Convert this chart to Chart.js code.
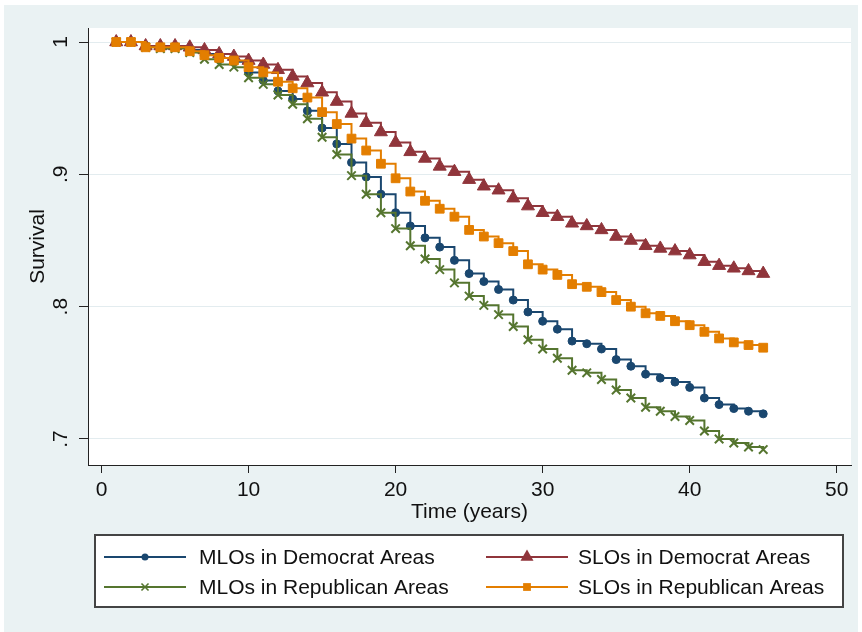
<!DOCTYPE html>
<html>
<head>
<meta charset="utf-8">
<script src="https://cdn.jsdelivr.net/npm/chart.js@4/dist/chart.umd.min.js"></script>
<style>
  html, body { margin: 0; padding: 0; background: #ffffff; }
  #wrap { width: 862px; height: 632px; }
</style>
</head>
<body>
<div id="wrap"><canvas id="c" width="862" height="632"></canvas></div>
<script>
// ---- data ----
const years = [1,2,3,4,5,6,7,8,9,10,11,12,13,14,15,16,17,18,19,20,21,22,23,24,25,26,27,28,29,30,31,32,33,34,35,36,37,38,39,40,41,42,43,44,45];

const mlosDemocrat = [1.000,1.000,0.997,0.996,0.996,0.994,0.991,0.988,0.985,0.977,0.971,0.963,0.957,0.948,0.935,0.923,0.909,0.898,0.885,0.871,0.861,0.852,0.845,0.835,0.825,0.819,0.813,0.805,0.796,0.789,0.783,0.774,0.772,0.768,0.760,0.755,0.749,0.746,0.743,0.739,0.731,0.726,0.723,0.721,0.719];
const slosDemocrat = [1.000,1.000,0.997,0.997,0.997,0.996,0.994,0.991,0.989,0.986,0.983,0.979,0.974,0.969,0.962,0.955,0.946,0.939,0.932,0.924,0.917,0.912,0.906,0.902,0.896,0.891,0.888,0.882,0.876,0.871,0.868,0.863,0.861,0.858,0.853,0.850,0.846,0.844,0.842,0.839,0.834,0.831,0.829,0.827,0.825];
const mlosRepublican = [1.000,1.000,0.996,0.995,0.995,0.992,0.987,0.983,0.981,0.973,0.968,0.960,0.953,0.942,0.928,0.915,0.899,0.885,0.871,0.859,0.846,0.836,0.828,0.818,0.808,0.801,0.794,0.785,0.775,0.768,0.761,0.752,0.750,0.745,0.737,0.731,0.724,0.721,0.717,0.714,0.706,0.700,0.697,0.694,0.692];
const slosRepublican = [1.000,1.000,0.996,0.996,0.996,0.993,0.990,0.988,0.986,0.981,0.977,0.970,0.965,0.958,0.947,0.938,0.927,0.918,0.908,0.897,0.887,0.880,0.874,0.868,0.858,0.853,0.848,0.842,0.832,0.828,0.824,0.817,0.815,0.811,0.805,0.800,0.795,0.793,0.789,0.786,0.781,0.776,0.773,0.771,0.769];

const seriesLabels = ["MLOs in Democrat Areas", "SLOs in Democrat Areas", "MLOs in Republican Areas", "SLOs in Republican Areas"];
const xTickValues = [0, 10, 20, 30, 40, 50];
const yTickValues = [0.7, 0.8, 0.9, 1];
const xTitle = "Time (years)";
const yTitle = "Survival";

// ---- styles ----
const FONT = '"Liberation Sans", Arial, sans-serif';
const FS = 21;
const COL = { blue: '#1a476f', red: '#90353b', green: '#55752f', orange: '#e37e00' };
const styles = [
  { color: COL.blue,   pointStyle: 'circle',   radius: 4,   order: 4 },
  { color: COL.red,    pointStyle: 'triangle', radius: 7.5, order: 3 },
  { color: COL.green,  pointStyle: 'crossRot', radius: 6,   order: 2 },
  { color: COL.orange, pointStyle: 'rect',     radius: 6.2, order: 1 }
];
const seriesValues = [mlosDemocrat, slosDemocrat, mlosRepublican, slosRepublican];

const datasets = seriesValues.map((vals, i) => ({
  label: seriesLabels[i],
  data: years.map((t, k) => ({ x: t, y: vals[k] })),
  borderColor: styles[i].color,
  backgroundColor: styles[i].color,
  pointBackgroundColor: styles[i].color,
  pointBorderColor: styles[i].color,
  pointStyle: styles[i].pointStyle,
  pointRadius: styles[i].radius,
  pointBorderWidth: styles[i].pointStyle === 'crossRot' ? 2 : 1,
  borderWidth: 2,
  stepped: 'before',
  fill: false,
  order: styles[i].order
}));

function drawMarker(ctx, style, color, x, y, r) {
  ctx.save();
  ctx.fillStyle = color; ctx.strokeStyle = color; ctx.lineWidth = 1;
  ctx.beginPath();
  if (style.pointStyle === 'circle') {
    ctx.arc(x, y, r, 0, Math.PI * 2); ctx.fill();
  } else if (style.pointStyle === 'triangle') {
    ctx.moveTo(x, y - r);
    ctx.lineTo(x + r * Math.sin(2 * Math.PI / 3), y - r * Math.cos(2 * Math.PI / 3));
    ctx.lineTo(x + r * Math.sin(4 * Math.PI / 3), y - r * Math.cos(4 * Math.PI / 3));
    ctx.closePath(); ctx.fill();
  } else if (style.pointStyle === 'rect') {
    const s = Math.SQRT1_2 * r;
    ctx.rect(x - s, y - s, 2 * s, 2 * s); ctx.fill();
  } else {
    const d = r * Math.SQRT1_2;
    ctx.lineWidth = 1.6;
    ctx.moveTo(x - d, y - d); ctx.lineTo(x + d, y + d);
    ctx.moveTo(x + d, y - d); ctx.lineTo(x - d, y + d);
    ctx.stroke();
  }
  ctx.restore();
}

const backgroundPlugin = {
  id: 'bg',
  beforeDraw(chart) {
    const { ctx, chartArea: a } = chart;
    ctx.save();
    ctx.fillStyle = '#ffffff';
    ctx.fillRect(0, 0, chart.width, chart.height);
    ctx.fillStyle = '#eaf2f3';
    ctx.fillRect(4, 5, 854, 627);
    ctx.fillStyle = '#ffffff';
    ctx.fillRect(a.left, a.top, a.right - a.left, a.bottom - a.top);
    ctx.restore();
  }
};

const legendMarkerRadius = [3.5, 7.5, 5, 5.5];

const legendPlugin = {
  id: 'stataLegend',
  afterDraw(chart) {
    const ctx = chart.ctx;
    ctx.save();
    const bx = 95, by = 535, bw = 748, bh = 72;
    ctx.fillStyle = '#ffffff';
    ctx.fillRect(bx, by, bw, bh);
    ctx.strokeStyle = '#444444';
    ctx.lineWidth = 2;
    ctx.strokeRect(bx, by, bw, bh);
    const cols = [ { x0: 104, x1: 186, tx: 199 }, { x0: 486, x1: 568, tx: 578 } ];
    const rows = [557, 587];
    ctx.font = FS + 'px ' + FONT;
    ctx.textBaseline = 'middle';
    ctx.textAlign = 'left';
    for (let i = 0; i < 4; i++) {
      const c = cols[i % 2], y = rows[Math.floor(i / 2)];
      ctx.strokeStyle = styles[i].color;
      ctx.lineWidth = 2;
      ctx.beginPath(); ctx.moveTo(c.x0, y); ctx.lineTo(c.x1, y); ctx.stroke();
      drawMarker(ctx, styles[i], styles[i].color, (c.x0 + c.x1) / 2, y, legendMarkerRadius[i]);
      ctx.fillStyle = '#111111';
      ctx.fillText(seriesLabels[i], c.tx, y + 1);
    }
    ctx.restore();
  }
};

new Chart(document.getElementById('c').getContext('2d'), {
  type: 'line',
  data: { datasets },
  options: {
    responsive: false,
    animation: false,
    events: [],
    layout: { padding: { top: 28, right: 11, bottom: 107, left: 0 } },
    plugins: { legend: { display: false }, tooltip: { enabled: false } },
    scales: {
      x: {
        type: 'linear', min: -0.92, max: 50.97,
        afterBuildTicks: s => { s.ticks = xTickValues.map(v => ({ value: v })); },
        afterFit: s => { s.height = 60; },
        grid: { drawOnChartArea: false, drawTicks: true, tickLength: 8, tickColor: '#222222', color: '#222222' },
        border: { display: true, color: '#222222', width: 1 },
        ticks: { color: '#111111', font: { family: FONT, size: FS }, padding: 5, maxRotation: 0, autoSkip: false,
                 callback: v => String(v) },
        title: { display: true, text: xTitle, color: '#111111', font: { family: FONT, size: FS }, padding: { top: 0, bottom: 0 } }
      },
      y: {
        type: 'linear', min: 0.68035, max: 1.01058,
        afterBuildTicks: s => { s.ticks = yTickValues.map(v => ({ value: v })); },
        afterFit: s => { s.width = 88; },
        grid: { drawOnChartArea: true, drawTicks: true, tickLength: 9, tickColor: '#222222', color: '#e3ecef', lineWidth: 1 },
        border: { display: true, color: '#222222', width: 1 },
        ticks: { color: '#111111', font: { family: FONT, size: FS }, padding: 9, minRotation: 90, maxRotation: 90,
                 crossAlign: 'center', autoSkip: false,
                 callback: v => (v === 1 ? '1' : '.' + Math.round(v * 10)) },
        title: { display: true, text: yTitle, color: '#111111', font: { family: FONT, size: FS }, padding: { top: 26, bottom: 0 } }
      }
    }
  },
  plugins: [backgroundPlugin, legendPlugin]
});
</script>
</body>
</html>
